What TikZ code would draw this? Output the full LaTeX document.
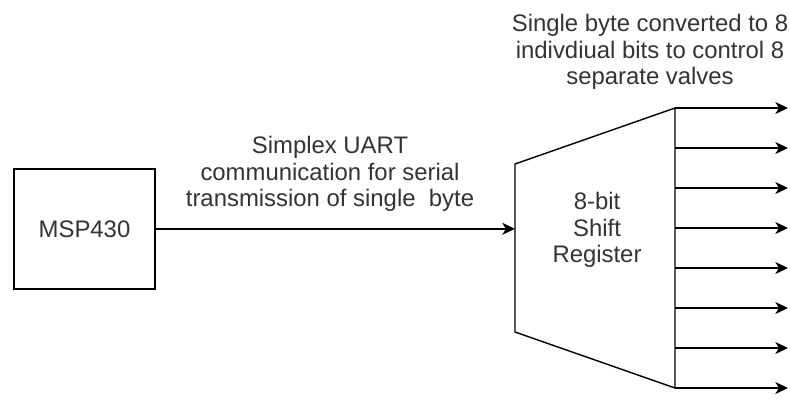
\documentclass[tikz,border=0pt]{standalone}
\usepackage{fontspec}
\setmainfont{Liberation Sans}
\usetikzlibrary{arrows.meta}
\tikzset{
  lbl/.style={align=center,text=black!80,font=\fontsize{17}{19}\selectfont},
  arr/.style={line width=1pt,-{Stealth[length=9pt,width=8.5pt,inset=2.5pt]}}
}
\begin{document}
\begin{tikzpicture}
        \useasboundingbox (0,0) rectangle (19.75,-9.95);
        % blocks
        \node [draw,line width=1pt,minimum width=3.525cm,minimum height=3cm,lbl] (msp) at (2.1125,-5.72) {MSP430};
        \coordinate (tl) at (12.875,-4.1);\coordinate (bl) at (12.875,-8.3);
        \coordinate (tr) at (16.875,-2.7);\coordinate (br) at (16.875,-9.7);
        \draw [line width=1pt] (tl) -- (tr) -- (br) -- (bl) -- cycle;
        \node [lbl] (reg) at (14.925,-5.75) {8-bit\\Shift\\Register};
        % lecter
        \node [lbl] (uart) at (8.25,-4.35) {Simplex UART\\ communication for serial\\transmission of single\ \ byte};
        \node [lbl] (bits) at (16.25,-1.3) {Single byte converted to 8\\indivdiual bits to control 8\\separate valves};
        % arrow
        \coordinate (regin) at (msp.east -| tl);
        \draw [arr] (msp.east) -- (regin);
        \foreach \i in {0,...,7} {
          \coordinate (out\i) at (16.875,-2.7-\i);\coordinate (valve\i) at (19.7,-2.7-\i);
          \draw [arr] (out\i) -- (valve\i);
        }
    \end{tikzpicture}
\end{document}
